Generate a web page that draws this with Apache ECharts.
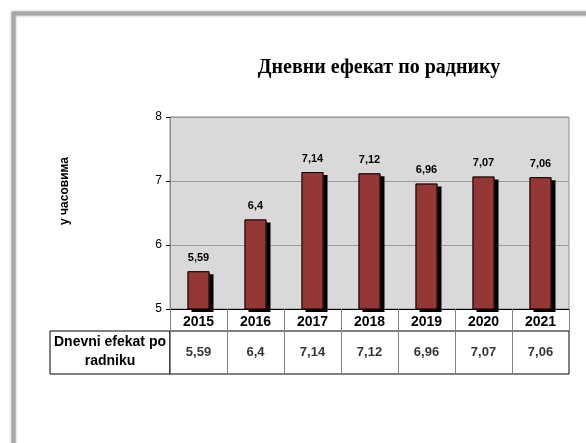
<!DOCTYPE html>
<html><head><meta charset="utf-8">
<script src="https://cdn.jsdelivr.net/npm/echarts@6/dist/echarts.min.js"></script>
<style>html,body{margin:0;padding:0;background:#fff}#c{width:586px;height:443px}</style>
</head><body><div id="c"></div>
<script>
var years = ['2015','2016','2017','2018','2019','2020','2021'];
var values = [5.59, 6.4, 7.14, 7.12, 6.96, 7.07, 7.06];
var yTicks = [5, 6, 7, 8];
var titleText = 'Дневни ефекат по раднику';
var yAxisName = 'у часовима';
var rowLabel = 'Dnevni efekat po\nradniku';

function fmt(v){ return String(v).replace('.', ','); }

var chart = echarts.init(document.getElementById('c'), null, {renderer:'canvas'});
var option = {
  animation: false,
  backgroundColor: '#fff',
  title: {
    text: titleText, left: 374, top: 53, textAlign: 'center',
    textStyle: {fontFamily: 'Liberation Serif', fontWeight: 'bold', fontSize: 20, color: '#000'}
  },
  graphic: [
    {type:'rect', shape:{x:13.5, y:13.5, width:640, height:500}, z:-10,
     style:{fill:'#fff', stroke:'#a8a8a8', lineWidth:4, shadowBlur:3, shadowColor:'rgba(0,0,0,0.35)'}},
    {type:'text', x:65, y:191, rotation:Math.PI/2,
     style:{text:yAxisName, font:'bold 12px Arial, Liberation Sans', fill:'#000', textAlign:'center', textVerticalAlign:'middle'}},
    {type:'text', x:110, y:352,
     style:{text:rowLabel, font:'bold 14px Arial, Liberation Sans', fill:'#000', textAlign:'center', textVerticalAlign:'middle', lineHeight:19}}
  ],
  grid: [
    {left:170, right:17, top:117, height:192, show:true, backgroundColor:'#d9d9d9', borderColor:'#8a8a8a', borderWidth:1},
    {left:170, right:17, top:331, height:43, show:true, backgroundColor:'transparent', borderColor:'#000', borderWidth:1},
    {left:50, width:120, top:331, height:43, show:true, backgroundColor:'transparent', borderColor:'#000', borderWidth:1}
  ],
  xAxis: [
    {type:'category', gridIndex:0, data:years, boundaryGap:true,
     axisLine:{show:true, lineStyle:{color:'#000', width:1}},
     axisTick:{show:true, length:65, interval:0, lineStyle:{color:'#808080'}},
     axisLabel:{interval:0, margin:6, fontFamily:'Arial, Liberation Sans', fontWeight:'bold', fontSize:14, color:'#000'}},
    {type:'category', gridIndex:1, data:years, boundaryGap:true,
     axisLine:{show:false}, axisTick:{show:false}, axisLabel:{show:false}},
    {type:'category', gridIndex:2, data:['a'], show:false}
  ],
  yAxis: [
    {type:'value', gridIndex:0, min:yTicks[0], max:yTicks[yTicks.length-1], interval:1,
     axisLine:{show:true, lineStyle:{color:'#8a8a8a'}},
     axisTick:{show:true, length:4, lineStyle:{color:'#000'}},
     axisLabel:{margin:8, fontFamily:'Arial, Liberation Sans', fontSize:12, color:'#000'},
     splitLine:{show:true, lineStyle:{color:'#9a9a9a', width:1}}},
    {type:'value', gridIndex:1, min:0, max:1, show:false},
    {type:'value', gridIndex:2, min:0, max:1, show:false}
  ],
  series: [
    {type:'bar', xAxisIndex:0, yAxisIndex:0, data:values, barWidth:22, silent:true,
     itemStyle:{color:'#953735', borderWidth:0,
       shadowColor:'#000', shadowBlur:0, shadowOffsetX:4, shadowOffsetY:3}},
    {type:'bar', xAxisIndex:0, yAxisIndex:0, data:values, barWidth:22, barGap:'-100%',
     itemStyle:{color:'rgba(0,0,0,0)', borderColor:'#000', borderWidth:1},
     label:{show:true, position:'top', distance:8, formatter:function(p){return fmt(p.value);},
       fontFamily:'Arial, Liberation Sans', fontWeight:'bold', fontSize:11, color:'#000'}},
    {type:'scatter', xAxisIndex:1, yAxisIndex:1, symbolSize:0, silent:true,
     data: values.map(function(v,i){return [i, 0.5, v];}),
     label:{show:true, position:'inside', formatter:function(p){return fmt(p.value[2]);},
       fontFamily:'Arial, Liberation Sans', fontWeight:'bold', fontSize:13, color:'#000'}}
  ]
};
chart.setOption(option);
</script></body></html>
